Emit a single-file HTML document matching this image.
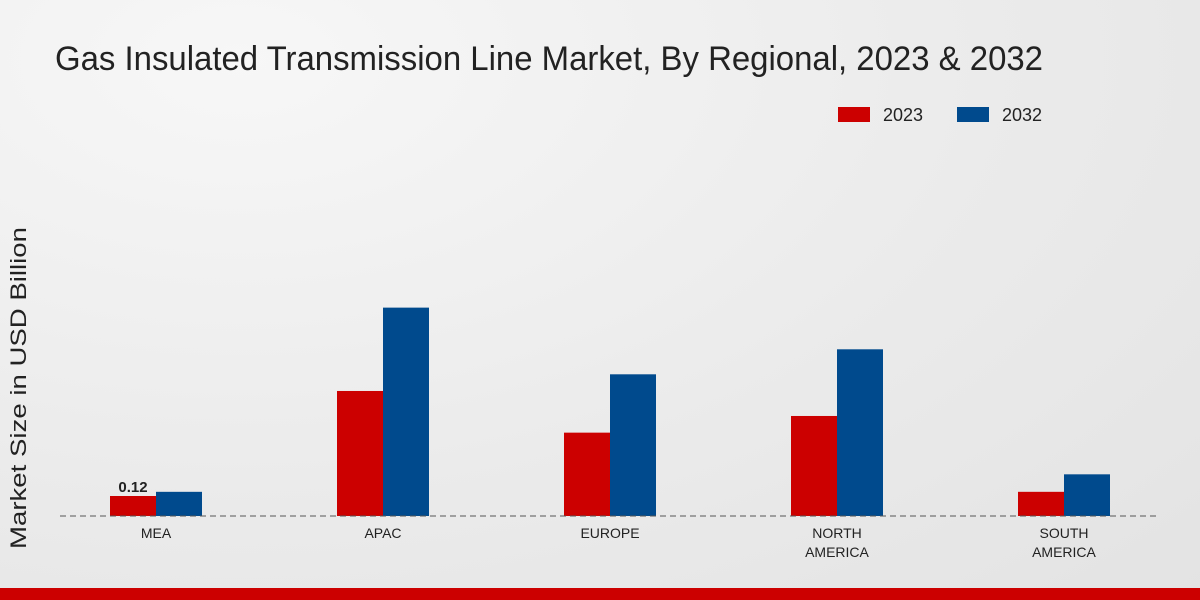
<!DOCTYPE html>
<html><head><meta charset="utf-8"><style>
body{margin:0;width:1200px;height:600px;overflow:hidden;font-family:"Liberation Sans",sans-serif;}
#bg{position:absolute;left:0;top:0;width:1200px;height:600px;background:radial-gradient(ellipse at 20% 10%,#f7f7f7 0%,#ebebeb 55%,#e3e3e3 100%);}
</style></head><body>
<div id="bg"></div>
<svg id="chart" width="1200" height="600" style="position:absolute;left:0;top:0">
<text x="55" y="70" font-size="34" fill="#222" textLength="988" lengthAdjust="spacingAndGlyphs">Gas Insulated Transmission Line Market, By Regional, 2023 &amp; 2032</text>
<text transform="translate(26,388) rotate(-90)" text-anchor="middle" font-size="22" fill="#222" textLength="322" lengthAdjust="spacingAndGlyphs">Market Size in USD Billion</text>
<g>
<rect x="838" y="107" width="32" height="15" fill="#cc0000"/>
<text x="883" y="121" font-size="18" fill="#222">2023</text>
<rect x="957" y="107" width="32" height="15" fill="#004a8d"/>
<text x="1002" y="121" font-size="18" fill="#222">2032</text>
</g>
<g id="marks"></g>
<line x1="60" y1="516" x2="1160" y2="516" stroke="#555" stroke-dasharray="6,4"/>
<rect x="0" y="588" width="1200" height="12" fill="#cc0000"/>
</svg>
<script>
const categories=[["MEA"],["APAC"],["EUROPE"],["NORTH","AMERICA"],["SOUTH","AMERICA"]];
const values2023=[0.12,0.75,0.5,0.6,0.145];
const values2032=[0.145,1.25,0.85,1.0,0.25];
const valueLabels=["0.12","","","",""];
const ns="http://www.w3.org/2000/svg";
const g=document.getElementById("marks");
const x=i=>156+i*227;
const y=v=>516-v*166.7;
function mk(t,a){const e=document.createElementNS(ns,t);for(const k in a)e.setAttribute(k,a[k]);g.appendChild(e);return e;}
categories.forEach((c,i)=>{
 const r1=mk("rect",{x:x(i)-46,y:y(values2023[i]),width:46,height:516-y(values2023[i]),fill:"#cc0000"});
 
 
 const r2=mk("rect",{x:x(i),y:y(values2032[i]),width:46,height:516-y(values2032[i]),fill:"#004a8d"});
 
 
 c.forEach((l,j)=>{const t=mk("text",{x:x(i),y:538+j*19,"text-anchor":"middle","font-size":14,fill:"#222"});t.textContent=l;
  
  });
 if(valueLabels[i]){const t=mk("text",{x:x(i)-23,y:y(values2023[i])-4,"text-anchor":"middle","font-size":15,"font-weight":"bold",fill:"#222"});t.textContent=valueLabels[i];
  
  }
});
</script>
</body></html>
